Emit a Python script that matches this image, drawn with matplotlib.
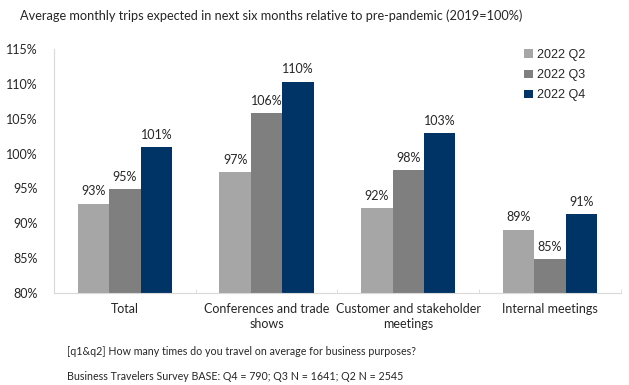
import numpy as np
import matplotlib.pyplot as plt
from matplotlib.ticker import FuncFormatter

plt.rcParams['font.family'] = ['Lato', 'DejaVu Sans']

categories = ["Total", "Conferences and trade\nshows", "Customer and stakeholder\nmeetings", "Internal meetings"]
series_names = ["2022 Q2", "2022 Q3", "2022 Q4"]
q2 = [92.8, 97.3, 92.2, 89.1]
q3 = [94.9, 105.8, 97.6, 84.9]
q4 = [100.9, 110.3, 102.9, 91.3]
labels_q2 = ["93%", "97%", "92%", "89%"]
labels_q3 = ["95%", "106%", "98%", "85%"]
labels_q4 = ["101%", "110%", "103%", "91%"]
yticks = [80, 85, 90, 95, 100, 105, 110, 115]

colors = ["#A6A6A6", "#7F7F7F", "#003366"]
GRAY_AX = "#D9D9D9"
TXT = "#262626"
FS = 9

fig = plt.figure(figsize=(6.29, 3.85), dpi=100)
ax = fig.add_axes([0.086, 0.239, 0.901, 0.634])

x = np.arange(len(categories))
w = 0.222
for i, (vals, labs) in enumerate(zip([q2, q3, q4], [labels_q2, labels_q3, labels_q4])):
    pos = x + (i - 1) * w
    ax.bar(pos, np.array(vals) - 80, bottom=80, width=w, color=colors[i],
           label=series_names[i], zorder=2)
    for xb, v, lab in zip(pos, vals, labs):
        ax.text(xb, v + 0.9, lab, ha="center", va="bottom", fontsize=FS, color=TXT)

ax.set_xlim(-0.5, len(categories) - 0.5)
ax.set_ylim(80, 115)
ax.set_yticks(yticks)
ax.yaxis.set_major_formatter(FuncFormatter(lambda v, p: f"{v:.0f}%"))
ax.tick_params(axis="y", length=0, labelsize=FS, labelcolor=TXT, pad=12)

ax.set_xticks(x)
ax.set_xticklabels(categories, fontsize=FS, color=TXT, linespacing=1.3)
ax.tick_params(axis="x", length=0, pad=7)
ax.set_xticks(np.arange(len(categories) + 1) - 0.5, minor=True)
ax.tick_params(axis="x", which="minor", direction="in", length=3, color=GRAY_AX)

for s in ["top", "right"]:
    ax.spines[s].set_visible(False)
ax.spines["left"].set_color(GRAY_AX)
ax.spines["bottom"].set_color(GRAY_AX)

ax.legend(loc="upper left", bbox_to_anchor=(0.81, 1.045), frameon=False,
          handlelength=0.7, handleheight=0.7, handletextpad=0.3, labelspacing=0.65,
          prop={"family": "Liberation Sans", "size": 9}, labelcolor=TXT)

fig.text(0.032, 0.96, "Average monthly trips expected in next six months relative to pre-pandemic (2019=100%)",
         fontsize=9.2, color=TXT, va="center")
fig.text(0.106, 0.086, "[q1&q2] How many times do you travel on average for business purposes?",
         fontsize=7.7, color=TXT, va="center")
fig.text(0.106, 0.023, "Business Travelers Survey BASE: Q4 = 790; Q3 N = 1641; Q2 N = 2545",
         fontsize=7.7, color=TXT, va="center")

fig.savefig("out.png", dpi=100)
